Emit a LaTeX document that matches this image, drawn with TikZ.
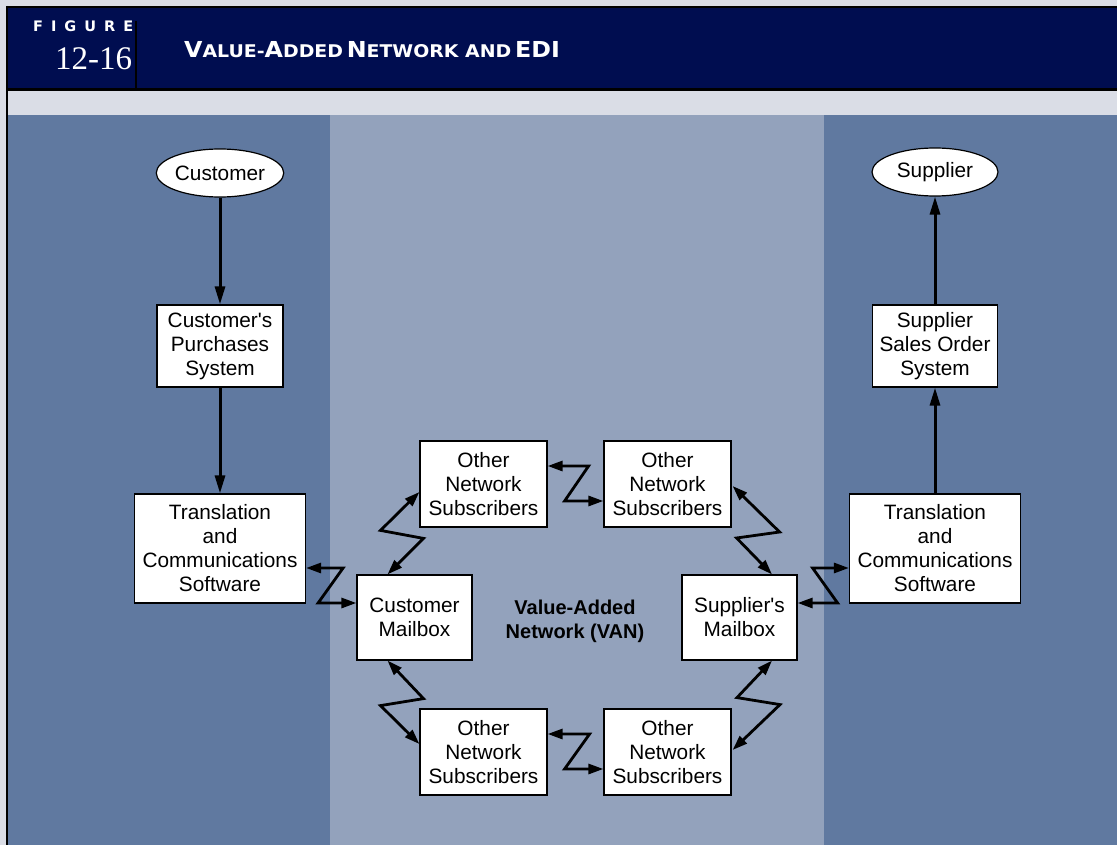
\documentclass[tikz,border=0pt]{standalone}
\usepackage{fontspec}
\setmainfont{Liberation Sans}
\newfontfamily\serifF{Liberation Serif}
\newfontfamily\headF{DejaVu Sans}
\usetikzlibrary{shapes.geometric,arrows.meta,calc}
\definecolor{bggray}{HTML}{DADDE6}
\definecolor{navy}{HTML}{000D50}
\definecolor{paneldark}{HTML}{6079A0}
\definecolor{panelmid}{HTML}{93A2BC}
\newcommand\BigC[1]{{\fontsize{22}{22}\selectfont #1}}
\newcommand\SmC[1]{{\fontsize{17.5}{17.5}\selectfont #1}}
\newcommand\ap{\textquotesingle}
\begin{document}
\begin{tikzpicture}[x=1pt,y=-1pt,
  box/.style={draw=black,line width=1.2pt,fill=white,align=center,
    font=\fontsize{20.8}{24}\selectfont,inner sep=0pt},
  oval/.style={ellipse,draw=black,line width=1.2pt,fill=white,
    font=\fontsize{20.8}{24}\selectfont,inner sep=0pt,
    minimum width=126pt,minimum height=48pt},
  va/.style={draw=black,line width=3pt,-{Triangle[length=18pt,width=10pt]}},
  zz/.style={draw=black,line width=2.8pt,line join=miter,
    {Triangle[length=15pt,width=10pt]}-{Triangle[length=15pt,width=10pt]}}]
\useasboundingbox (0,0) rectangle (1117,845);
% backgrounds
\fill[bggray] (0,0) rectangle (1117,845);
\fill[navy] (7,7) rectangle (1117,89);
\draw[black,line width=2.2pt] (7,7) -- (1117,7);
\draw[black,line width=2.6pt] (7,89.5) -- (1117,89.5);
\fill[paneldark] (8,115) rectangle (330,845);
\fill[panelmid] (330,115) rectangle (824,845);
\fill[paneldark] (824,115) rectangle (1117,845);
\draw[black,line width=2.2pt] (7,6) -- (7,845);
\draw[black,line width=2.2pt] (136,21) -- (136,89);
% header text
\node[anchor=base west,inner sep=0pt,text=white,font=\headF\bfseries\fontsize{14.5}{14.5}\selectfont] (figlbl) at (33,32)
  {F\hspace{8pt}I\hspace{8pt}G\hspace{8pt}U\hspace{8pt}R\hspace{8pt}E};
\node[anchor=base west,inner sep=0pt,text=white,font=\serifF\fontsize{33}{33}\selectfont] (fignum) at (55,70) {12-16};
\node[anchor=base west,inner sep=0pt,text=white,font=\headF\bfseries] (title) at (184,58)
  {\scalebox{1.08}[1]{\BigC{V}\SmC{ALUE-}\BigC{A}\SmC{DDED} \BigC{N}\SmC{ETWORK AND} \BigC{EDI}}};
% nodes
\node[oval] (cust) at (220,173) {Customer};
\node[oval] (supp) at (935,172) {Supplier};
\node[box,minimum width=126pt,minimum height=82pt] (cps) at (220,346) {Customer\ap s\\Purchases\\System};
\node[box,minimum width=125pt,minimum height=82pt] (sso) at (935,346) {Supplier\\Sales Order\\System};
\node[box,minimum width=171pt,minimum height=109pt] (tl) at (220,548.5) {Translation\\and\\Communications\\Software};
\node[box,minimum width=171pt,minimum height=109pt] (tr) at (935,548.5) {Translation\\and\\Communications\\Software};
\node[box,minimum width=115pt,minimum height=85pt] (cm) at (414.5,617.5) {Customer\\Mailbox};
\node[box,minimum width=115pt,minimum height=85pt] (sm) at (739.5,617.5) {Supplier\ap s\\Mailbox};
\node[box,minimum width=127pt,minimum height=86pt] (otl) at (483.5,484) {Other\\Network\\Subscribers};
\node[box,minimum width=127pt,minimum height=86pt] (otr) at (667.5,484) {Other\\Network\\Subscribers};
\node[box,minimum width=127pt,minimum height=86pt] (obl) at (483.5,752) {Other\\Network\\Subscribers};
\node[box,minimum width=127pt,minimum height=86pt] (obr) at (667.5,752) {Other\\Network\\Subscribers};
\node[align=center,inner sep=0pt,font=\bfseries\fontsize{20}{24}\selectfont] (van) at (575,621) {Value-Added\\Network (VAN)};
% vertical arrows
\draw[va] (cust.south) -- (cps.north);
\draw[va] (cps.south) -- (tl.north);
\draw[va] (tr.north) -- (sso.south);
\draw[va] (sso.north) -- (supp.south);
% zigzag links
\draw[zz] ($(tl.east)+(0,19.5)$) -- ++(37,0) -- ++(-25,35) -- ($(cm.west)+(0,-14.5)$);
\draw[zz] ($(cm.north)+(-27,0)$) -- ++(36,-36) -- ++(-43,-8) -- ($(otl.west)+(0,8)$);
\draw[zz] ($(otl.east)+(0,-18)$) -- ++(41,0) -- ++(-24,35) -- ($(otr.west)+(0,17)$);
\draw[zz] ($(otr.east)+(1,2)$) -- ++(47,46) -- ++(-43,6) -- ($(sm.north)+(32.5,0)$);
\draw[zz] ($(sm.east)+(0,-14.5)$) -- ++(40,0) -- ++(-25,-35) -- ($(tr.west)+(0,19.5)$);
\draw[zz] ($(cm.south)+(-27,0)$) -- ++(36,38) -- ++(-43,7) -- ($(obl.west)+(0,-8)$);
\draw[zz] ($(obl.east)+(0,-18)$) -- ++(42,0) -- ++(-25,35) -- ($(obr.west)+(0,17)$);
\draw[zz] ($(sm.south)+(32.5,0)$) -- ++(-35,37) -- ++(43,7) -- ($(obr.east)+(1,-2)$);
\end{tikzpicture}
\end{document}
